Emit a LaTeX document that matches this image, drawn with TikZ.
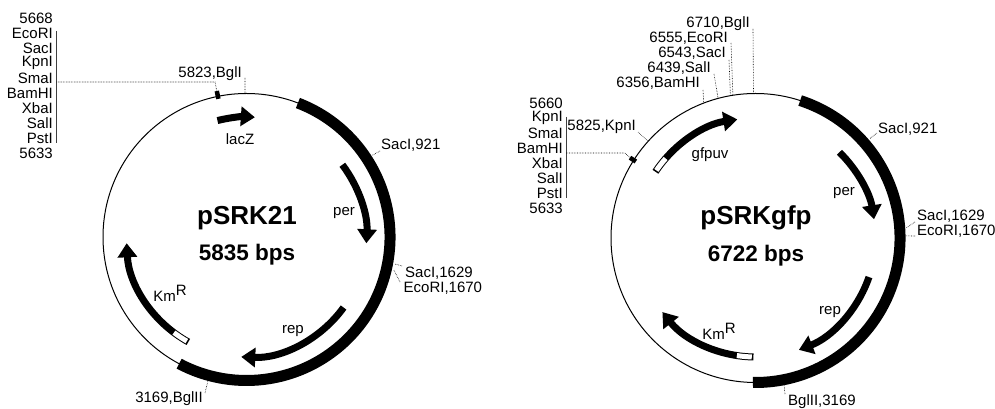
\documentclass[tikz,border=0pt]{standalone}
\usepackage{fontspec}
\setmainfont{Liberation Sans}
\usepackage{tikz}
\usetikzlibrary{arrows.meta}
\tikzset{
	sitetext/.style={font=\fontsize{15}{15}\selectfont,inner sep=0pt},
	genetext/.style={font=\fontsize{15}{15}\selectfont,inner sep=0pt},
	nametext/.style={font=\fontsize{26}{28}\selectfont\bfseries,inner sep=0pt},
	sizetext/.style={font=\fontsize{22.5}{24}\selectfont\bfseries,inner sep=0pt}
}
\tikzset{
	backbone/.style={line width=1pt},
	marker/.style={line width=11pt},
	genearrow/.style={line width=7pt,-{Triangle[length=14pt,width=19pt]}},
	geneboxfill/.style={line width=5pt,white},
	leader/.style={densely dotted,line width=0.6pt},
	listbar/.style={line width=1pt,black!75},
	sitetick/.style={line width=4.5pt}
}
\begin{document}
\begin{tikzpicture}[x=1pt,y=1pt,line cap=butt]
      \useasboundingbox (0,0) rectangle (995,409);
      % left plasmid
      \coordinate (lc) at (246.5,172);
      \draw[backbone] (lc) circle (143.5);
      \draw[marker] (lc) ++(69:143.5) arc (69:-118:143.5);
      \node[nametext] (lname) at (247,191) {pSRK21};
      \node[sizetext] (lsize) at (247,154) {5835 bps};
      \draw[genearrow] (lc) ++(104:120) arc (104:86:120);
      \draw[genearrow] (lc) ++(37:120) arc (37:-3:120);
      \draw[genearrow] (lc) ++(-36:120) arc (-36:-92.5:120);
      \draw[genearrow] (lc) ++(241:120) arc (241:183:120);
      \draw[geneboxfill] (lc) ++(240.2:120) arc (240.2:232.8:120);
      \node[genetext] (lacz) at (240,270) {lacZ};
      \node[genetext] (lper) at (344,196) {per};
      \node[genetext] (lrep) at (293,78) {rep};
      \node[genetext] (lkm) at (170,116) {Km\raisebox{6pt}{R}};
      % left sites
      \node[sitetext,anchor=east] (lbgl) at (242,335) {5823,BglI};
      \node[sitetext,anchor=west] (lsac) at (381,264) {SacI,921};
      \node[sitetext,anchor=west] (lsacb) at (405,136) {SacI,1629};
      \node[sitetext,anchor=west] (leco) at (403.5,121) {EcoRI,1670};
      \node[sitetext,anchor=east] (lbglii) at (203,10) {3169,BglII};
      \coordinate (lbgltop) at (245,331);
      \coordinate (lbglbot) at ([shift={(90.6:143.5)}]lc);
      \draw[leader] (lbgltop) -- (lbglbot);
      \coordinate (lsacend) at (380,258);
      \coordinate (lsacsite) at ([shift={(33:150)}]lc);
      \draw[leader] (lsacend) -- (lsacsite);
      \coordinate (lsacbend) at (402,143);
      \coordinate (lsacbsite) at ([shift={(-10.3:151)}]lc);
      \draw[leader] (lsacbend) -- (lsacbsite);
      \coordinate (lecoend) at (400,127);
      \coordinate (lecosite) at ([shift={(-12.6:151)}]lc);
      \draw[leader] (lecoend) -- (lecosite);
      \coordinate (lbgliiend) at (205,16);
      \coordinate (lbgliisite) at ([shift={(-105:149)}]lc);
      \draw[leader] (lbgliiend) -- (lbgliisite);
      % left polylinker list
      \node[sitetext,anchor=east] (ltop) at (53,391) {5668};
      \node[sitetext,anchor=east] (leco1) at (53,376) {EcoRI};
      \node[sitetext,anchor=east] (lsac1) at (53,361) {SacI};
      \node[sitetext,anchor=east] (lkpn1) at (53,346) {KpnI};
      \node[sitetext,anchor=east] (lsma1) at (53,331) {SmaI};
      \node[sitetext,anchor=east] (lbam1) at (53,316) {BamHI};
      \node[sitetext,anchor=east] (lxba1) at (53,301) {XbaI};
      \node[sitetext,anchor=east] (lsal1) at (53,286) {SalI};
      \node[sitetext,anchor=east] (lpst1) at (53,271) {PstI};
      \node[sitetext,anchor=east] (lbot) at (53,256) {5633};
      \coordinate (lbartop) at (56.5,378);
      \coordinate (lbarbot) at (56.5,266);
      \draw[listbar] (lbartop) -- (lbarbot);
      \coordinate (lbarmid) at (56.5,327);
      \coordinate (ltickbend) at (215,327);
      \coordinate (ltickout) at ([shift={(101.5:149)}]lc);
      \coordinate (ltickin) at ([shift={(101.5:141)}]lc);
      \draw[sitetick] (ltickout) -- (ltickin);
      \draw[leader] (lbarmid) -- (ltickbend) -- (ltickout);
      % right plasmid
      \coordinate (rc) at (755.5,171);
      \draw[backbone] (rc) circle (144.5);
      \draw[marker] (rc) ++(72:144.5) arc (72:-91:144.5);
      \node[nametext] (rname) at (756,191) {pSRKgfp};
      \node[sizetext] (rsize) at (756,153) {6722 bps};
      \draw[genearrow] (rc) ++(146.5:120) arc (146.5:98.7:120);
      \draw[geneboxfill] (rc) ++(145.7:120) arc (145.7:138.5:120);
      \draw[genearrow] (rc) ++(45.6:120) arc (45.6:9:120);
      \draw[genearrow] (rc) ++(-19:120) arc (-19:-68.8:120);
      \draw[genearrow] (rc) ++(269:119) arc (269:218.5:119);
      \draw[geneboxfill] (rc) ++(268.2:119) arc (268.2:261:119);
      \node[genetext] (gfp) at (710,254) {gfpuv};
      \node[genetext] (rper) at (844,216) {per};
      \node[genetext] (rrep) at (830,97) {rep};
      \node[genetext] (rkm) at (719,78) {Km\raisebox{6pt}{R}};
      % right sites
      \node[sitetext,anchor=east] (rbgl) at (750,385) {6710,BglI};
      \node[sitetext,anchor=east] (reco) at (728,371) {6555,EcoRI};
      \node[sitetext,anchor=east] (rsac) at (726,356) {6543,SacI};
      \node[sitetext,anchor=east] (rsal) at (711,341) {6439,SalI};
      \node[sitetext,anchor=east] (rbam) at (700,326) {6356,BamHI};
      \node[sitetext,anchor=east] (rkpn) at (636,282) {5825,KpnI};
      \node[sitetext,anchor=west] (rsacc) at (878,280) {SacI,921};
      \node[sitetext,anchor=west] (rsacb) at (917,193) {SacI,1629};
      \node[sitetext,anchor=west] (recob) at (917,178) {EcoRI,1670};
      \node[sitetext,anchor=west] (rbglii) at (788,7) {BglII,3169};
      \coordinate (rbglend) at (753,380);
      \coordinate (rbglsite) at ([shift={(90.8:144.5)}]rc);
      \draw[leader] (rbglend) -- (rbglsite);
      \coordinate (recoend) at (731,366);
      \coordinate (recosite) at ([shift={(99:144.5)}]rc);
      \draw[leader] (recoend) -- (recosite);
      \coordinate (rsacend) at (729,349);
      \coordinate (rsacsite) at ([shift={(100:144.5)}]rc);
      \draw[leader] (rsacend) -- (rsacsite);
      \coordinate (rsalend) at (714,335);
      \coordinate (rsalsite) at ([shift={(105:144.5)}]rc);
      \draw[leader] (rsalend) -- (rsalsite);
      \coordinate (rbamend) at (703,319);
      \coordinate (rbamsite) at ([shift={(111:144.5)}]rc);
      \draw[leader] (rbamend) -- (rbamsite);
      \coordinate (rkpnend) at (638,277);
      \coordinate (rkpnsite) at ([shift={(138:144.5)}]rc);
      \draw[leader] (rkpnend) -- (rkpnsite);
      \coordinate (rsaccend) at (877,276);
      \coordinate (rsaccsite) at ([shift={(41:151)}]rc);
      \draw[leader] (rsaccend) -- (rsaccsite);
      \coordinate (rsacbend) at (915,187);
      \coordinate (rsacbsite) at ([shift={(3.8:151)}]rc);
      \draw[leader] (rsacbend) -- (rsacbsite);
      \coordinate (recobend) at (915,173);
      \coordinate (recobsite) at ([shift={(0.8:151)}]rc);
      \draw[leader] (recobend) -- (recobsite);
      \coordinate (rbgliiend) at (785,15);
      \coordinate (rbgliisite) at ([shift={(-79:150)}]rc);
      \draw[leader] (rbgliiend) -- (rbgliisite);
      % right polylinker list
      \node[sitetext,anchor=east] (rtop) at (563,306) {5660};
      \node[sitetext,anchor=east] (rkpn1) at (563,291) {KpnI};
      \node[sitetext,anchor=east] (rsma1) at (563,276) {SmaI};
      \node[sitetext,anchor=east] (rbam1) at (563,261) {BamHI};
      \node[sitetext,anchor=east] (rxba1) at (563,246) {XbaI};
      \node[sitetext,anchor=east] (rsal1) at (563,231) {SalI};
      \node[sitetext,anchor=east] (rpst1) at (563,216) {PstI};
      \node[sitetext,anchor=east] (rbot) at (563,201) {5633};
      \coordinate (rbartop) at (566,292);
      \coordinate (rbarbot) at (566,211);
      \draw[listbar] (rbartop) -- (rbarbot);
      \coordinate (rbarmid) at (566,256);
      \coordinate (rtickbend) at (625,256);
      \coordinate (rtickout) at ([shift={(147.4:149)}]rc);
      \coordinate (rtickin) at ([shift={(147.4:142)}]rc);
      \draw[sitetick] (rtickout) -- (rtickin);
      \draw[leader] (rbarmid) -- (rtickbend) -- (rtickout);
    \end{tikzpicture}
\end{document}
